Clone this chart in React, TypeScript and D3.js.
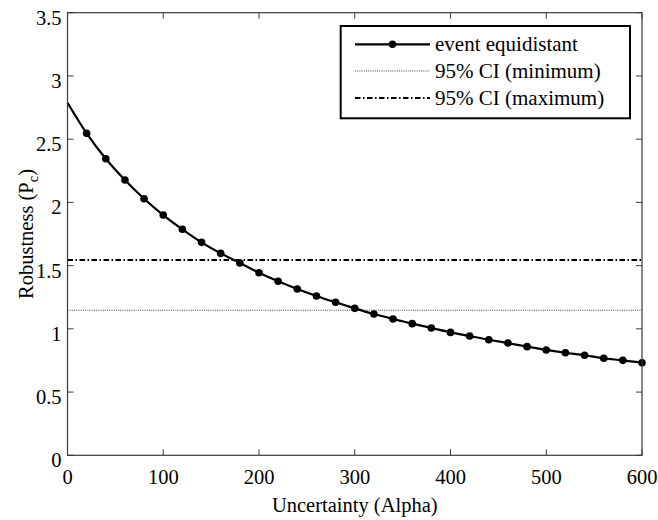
import React from "react";
import * as d3 from "d3";

const alphaValues = [0, 20, 40, 60, 80, 100, 120, 140, 160, 180, 200, 220, 240, 260, 280, 300, 320, 340, 360, 380, 400, 420, 440, 460, 480, 500, 520, 540, 560, 580, 600];
const robustness = [2.788, 2.546, 2.345, 2.177, 2.029, 1.9, 1.787, 1.684, 1.597, 1.521, 1.443, 1.376, 1.315, 1.26, 1.21, 1.162, 1.117, 1.078, 1.041, 1.007, 0.972, 0.943, 0.914, 0.888, 0.859, 0.833, 0.811, 0.791, 0.767, 0.751, 0.732];
const ciMin = 1.147;
const ciMax = 1.545;
const xTicks = [0, 100, 200, 300, 400, 500, 600];
const yTicks = [0, 0.5, 1, 1.5, 2, 2.5, 3, 3.5];
const legendLabels = ["event equidistant", "95% CI (minimum)", "95% CI (maximum)"];

const W = 658;
const H = 520;
const L = 67.5, R = 642, T = 12.7, B = 455.3;
const FONT = "'Liberation Serif', 'Times New Roman', serif";

export default function App() {
  const x = d3.scaleLinear().domain([0, 600]).range([L, R]);
  const y = d3.scaleLinear().domain([0, 3.5]).range([B, T]);
  const line = d3.line<number>().x((_, i) => x(alphaValues[i])).y((d) => y(d)).curve(d3.curveMonotoneX);
  const tickLen = 6;
  const axisColor = "#3a3a3a";
  const fs = 20.5;
  const legX = 340.7, legY = 26, legW = 289.3, legH = 92.3;
  const rows = [44.3, 71, 98];
  return (
    <svg width={W} height={H} style={{ position: "absolute", left: 0, top: 0, background: "#fff" }} fontFamily={FONT}>
      <rect x={0} y={0} width={W} height={H} fill="#fff" />
      {/* CI lines */}
      <line x1={L} x2={R} y1={y(ciMin)} y2={y(ciMin)} stroke="#444" strokeWidth={1} strokeDasharray="1 1.2" />
      <line x1={L} x2={R} y1={y(ciMax)} y2={y(ciMax)} stroke="#000" strokeWidth={2} strokeDasharray="5.5 2.5 1.5 2.5" />
      {/* curve */}
      <path d={line(robustness) || ""} fill="none" stroke="#000" strokeWidth={2.2} />
      {robustness.map((v, i) => (i === 0 ? null : <circle key={i} cx={x(alphaValues[i])} cy={y(v)} r={3.8} fill="#000" />))}
      {/* axes box */}
      <rect x={L} y={T} width={R - L} height={B - T} fill="none" stroke={axisColor} strokeWidth={1.2} />
      {xTicks.map((t) => (
        <g key={"x" + t}>
          <line x1={x(t)} x2={x(t)} y1={B} y2={B - tickLen} stroke={axisColor} strokeWidth={1} />
          <line x1={x(t)} x2={x(t)} y1={T} y2={T + tickLen} stroke={axisColor} strokeWidth={1} />
          <text x={x(t)} y={B + 29} fontSize={fs} textAnchor="middle" fill="#000">{t}</text>
        </g>
      ))}
      {yTicks.map((t) => (
        <g key={"y" + t}>
          <line x1={L} x2={L + tickLen} y1={y(t)} y2={y(t)} stroke={axisColor} strokeWidth={1} />
          <line x1={R} x2={R - tickLen} y1={y(t)} y2={y(t)} stroke={axisColor} strokeWidth={1} />
          <text x={L - 6} y={y(t) + 12} fontSize={fs} textAnchor="end" fill="#000">{String(t)}</text>
        </g>
      ))}
      <text x={(L + R) / 2} y={511.5} fontSize={fs} textAnchor="middle" fill="#000">Uncertainty (Alpha)</text>
      <text transform={`translate(33,${(T + B) / 2}) rotate(-90)`} fontSize={fs} textAnchor="middle" fill="#000">
        Robustness (P<tspan fontSize={fs * 0.7} dy={5}>c</tspan><tspan dy={-5}>)</tspan>
      </text>
      {/* legend */}
      <rect x={legX} y={legY} width={legW} height={legH} fill="#fff" stroke="#000" strokeWidth={2} />
      <line x1={355} x2={430} y1={rows[0]} y2={rows[0]} stroke="#000" strokeWidth={2.2} />
      <circle cx={392.5} cy={rows[0]} r={3.8} fill="#000" />
      <line x1={355} x2={430} y1={rows[1]} y2={rows[1]} stroke="#444" strokeWidth={1} strokeDasharray="1 1.2" />
      <line x1={355} x2={430} y1={rows[2]} y2={rows[2]} stroke="#000" strokeWidth={2} strokeDasharray="5.5 2.5 1.5 2.5" />
      {legendLabels.map((lab, i) => (
        <text key={lab} x={435} y={rows[i] + 7} fontSize={21} fill="#000">{lab}</text>
      ))}
    </svg>
  );
}
